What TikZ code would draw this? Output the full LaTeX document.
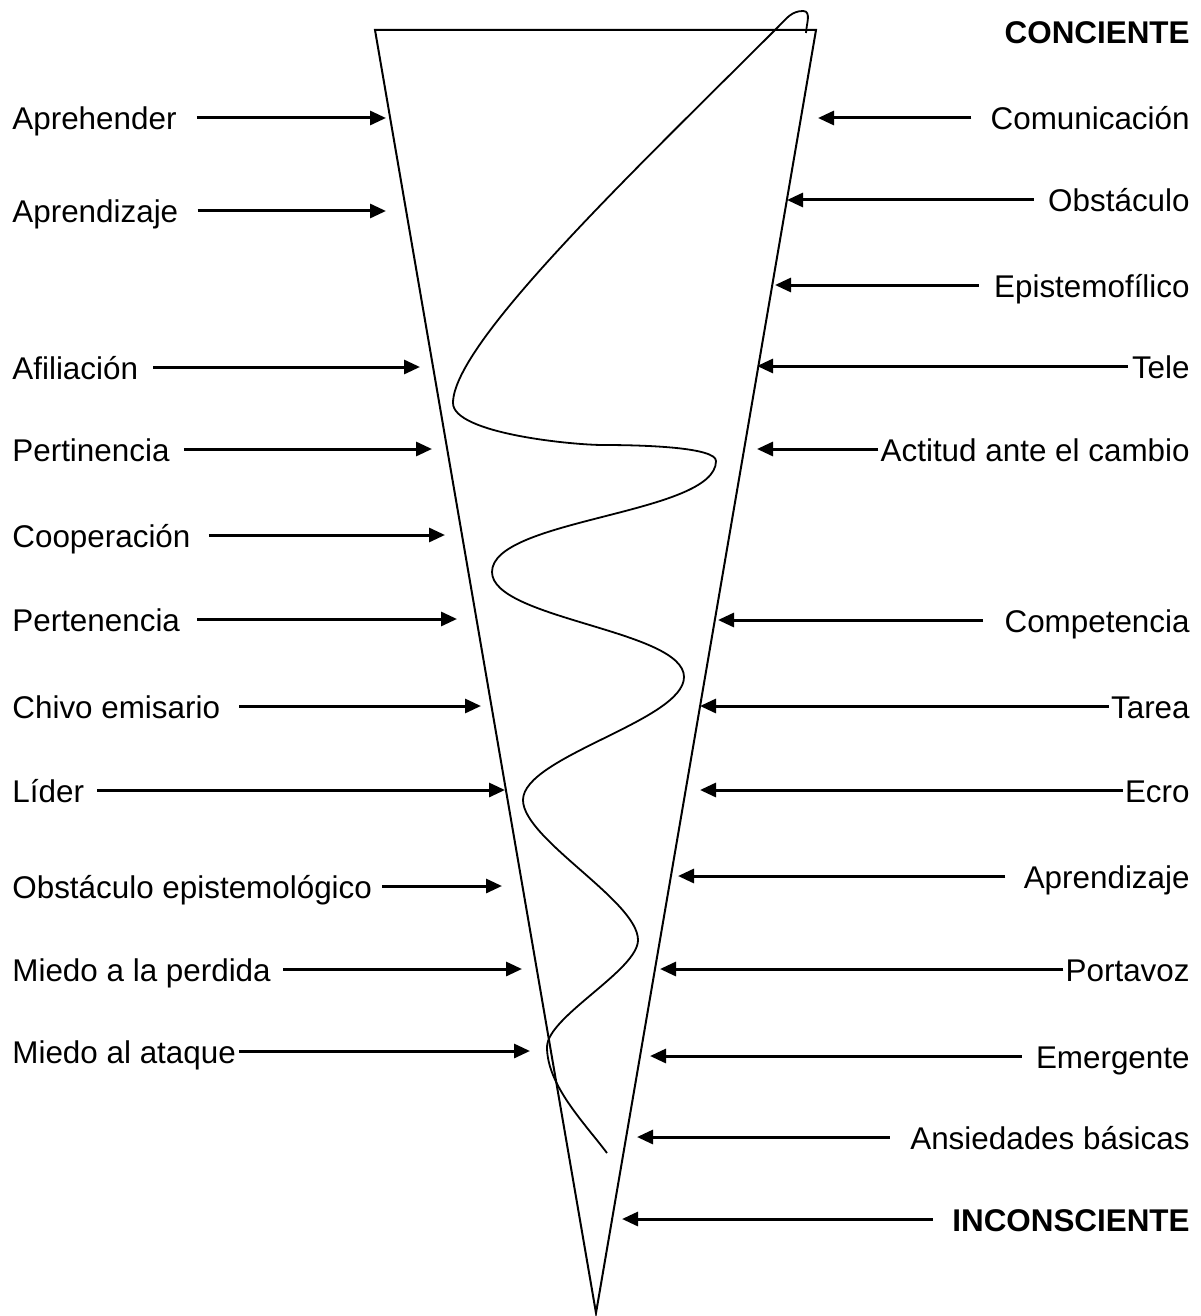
\documentclass[tikz,border=0pt]{standalone}
\usepackage{fontspec}
\setmainfont{Liberation Sans}
\usetikzlibrary{arrows.meta}
\tikzset{
    lbl/.style={inner sep=0pt,font=\fontsize{15.7}{18}\selectfont},
    flecha/.style={line width=1.5pt,-{Triangle[length=8pt,width=7pt]}}
}
\begin{document}
\begin{tikzpicture}[x=0.5pt,y=-0.5pt]
\useasboundingbox (0,0) rectangle (1200,1316);

\coordinate (A) at (375,30);
\coordinate (B) at (816,30);
\coordinate (C) at (596,1313);
\draw[line width=1pt] (A)--(B)--(C)--cycle;

\draw[line width=0.9pt] (806,33) to[out=88,in=0] (803,11)
    to[out=180,in=45] (778,27)
    to[out=-135,in=90,out looseness=1.03,in looseness=0.31] (453,403)
    to[out=-90,in=180,looseness=0.5] (603,445)
    to[out=0,in=90,out looseness=1,in looseness=0.3] (716,461)
    to[out=-90,in=90,looseness=0.55] (492,572)
    to[out=-90,in=90,looseness=0.55] (684,677)
    to[out=-90,in=90,looseness=0.55] (523,800)
    to[out=-90,in=90,looseness=0.55] (638,940)
    to[out=-90,in=90,looseness=0.55] (547,1047)
    to[out=-90,in=127,looseness=0.8] (607,1153);

\foreach \n/\t/\y/\g/\p in {1/Aprehender/118/20/386,2/Aprendizaje/211/19/386,
    3/Afiliación/367/15/420,4/Pertinencia/449/14/432,5/Cooperación/535/18/445,
    6/Pertenencia/619/17/457,7/Chivo emisario/706/19/481,8/Líder/790/13/505,
    9/Obstáculo epistemológico/886/10/502,10/Miedo a la perdida/969/12/522,
    11/Miedo al ataque/1051/3/530}{
    \node[lbl,anchor=base west] (L\n) at (12,\y+12) {\t};
    \coordinate (Lp\n) at (\p,\y);
    \draw[flecha] ([shift={(\g,-12)}]L\n.base east) -- (Lp\n);
}

\node[lbl,font=\fontsize{15.7}{18}\selectfont\bfseries,anchor=base east] (con) at (1190,44) {CONCIENTE};

\foreach \n/\t/\y/\g/\p in {1/Comunicación/118/19/818,2/Obstáculo/200/14/787,
    3/Epistemofílico/285/15/775,4/Tele/366/4/757,5/Actitud ante el cambio/449/2/757,
    6/Competencia/620/21/718,7/Tarea/706/2/700,8/Ecro/790/2/700,
    9/Aprendizaje/876/18/678,10/Portavoz/969/2/660,11/Emergente/1056/14/650,
    12/Ansiedades básicas/1137/20/637,13/{\bfseries INCONSCIENTE}/1219/19/622}{
    \node[lbl,anchor=base east] (R\n) at (1190,\y+12) {\t};
    \coordinate (Rp\n) at (\p,\y);
    \draw[flecha] ([shift={(-\g,-12)}]R\n.base west) -- (Rp\n);
}
\end{tikzpicture}
\end{document}
